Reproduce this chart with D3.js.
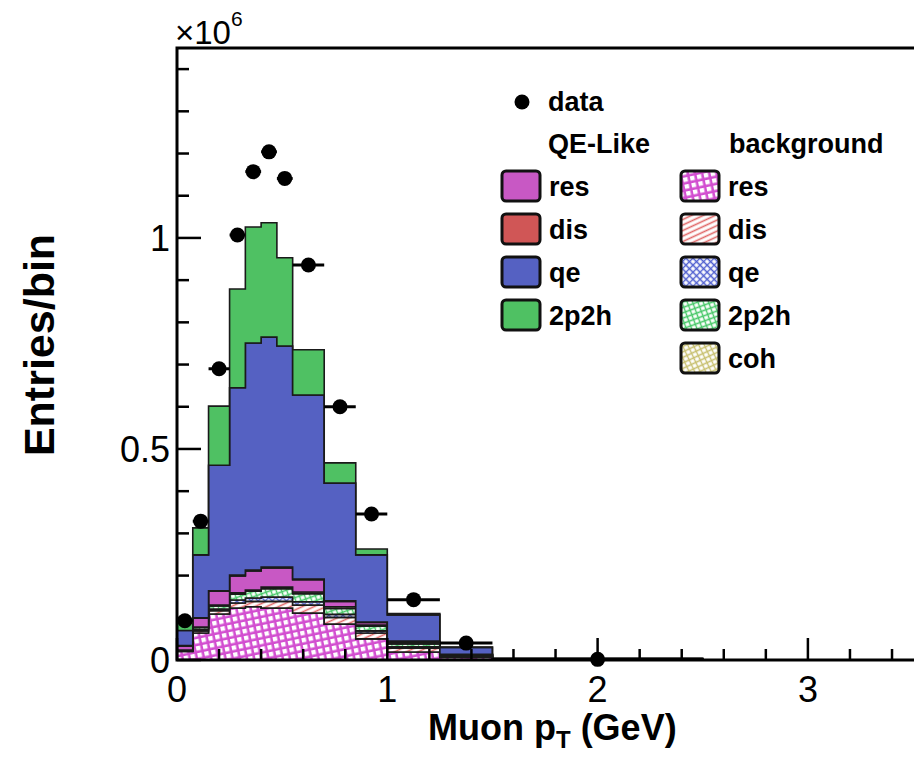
<!DOCTYPE html>
<html>
<head>
<meta charset="utf-8">
<style>
  body { margin: 0; background: #fff; }
  svg text { font-family: "Liberation Sans", Arial, Helvetica, sans-serif; fill: #000; }
  .lab { font-weight: bold; font-size: 27px; }
  .tick { font-size: 36px; }
</style>
<script src="https://d3js.org/d3.v7.min.js"></script>
</head>
<body>
<svg id="chart"></svg>
<script>
// bin edges in GeV
var binEdges = [0, 0.075, 0.15, 0.25, 0.325, 0.4, 0.475, 0.55, 0.7, 0.85, 1.0, 1.25, 1.5, 2.5, 4.5];

// entries per bin, in units of 1e6
var bgRes   = [0.020, 0.064, 0.109, 0.123, 0.126, 0.123, 0.123, 0.111, 0.085, 0.050, 0.019, 0.006, 0.0008, 0.0001];
var bgDis   = [0.001, 0.005, 0.008, 0.012, 0.013, 0.016, 0.016, 0.019, 0.016, 0.014, 0.009, 0.003, 0.0005, 0.0001];
var bgQE    = [0.001, 0.003, 0.004, 0.007, 0.008, 0.010, 0.010, 0.008, 0.007, 0.005, 0.003, 0.001, 0.0002, 0];
var bg2p2h  = [0.001, 0.005, 0.007, 0.014, 0.016, 0.020, 0.020, 0.019, 0.014, 0.011, 0.007, 0.002, 0.0003, 0];
var bgCoh   = [0.0005, 0.001, 0.002, 0.003, 0.003, 0.004, 0.004, 0.004, 0.004, 0.003, 0.002, 0.0005, 0.0001, 0];
var sigRes  = [0.010, 0.021, 0.033, 0.040, 0.045, 0.045, 0.045, 0.029, 0.013, 0.006, 0.004, 0.001, 0.0002, 0];
var sigDis  = [0.0005, 0.001, 0.001, 0.002, 0.002, 0.002, 0.002, 0.002, 0.001, 0.001, 0.001, 0.0003, 0.0001, 0];
var sigQE   = [0.036, 0.149, 0.2975, 0.444, 0.538, 0.545, 0.524, 0.436, 0.279, 0.159, 0.062, 0.016, 0.0015, 0.0002];
var sig2p2h = [0.017, 0.064, 0.140, 0.234, 0.275, 0.271, 0.209, 0.107, 0.048, 0.014, 0.003, 0.001, 0.0002, 0];

var dataVals = [0.093, 0.329, 0.69, 1.007, 1.157, 1.204, 1.141, 0.936, 0.600, 0.346, 0.143, 0.040, 0.0015];

var xTickLabels = ["0", "1", "2", "3"];
var yTickLabels = ["0", "0.5", "1"];

var width = 914, height = 760;

var x = d3.scaleLinear().domain([0, 4.5]).range([177, 177 + 4.5 * 210.3]);
var y = d3.scaleLinear().domain([0, 1.45]).range([660, 48]);

var svg = d3.select("#chart").attr("width", width).attr("height", height);
var defs = svg.append("defs");

// hatch patterns for the background components
function hatch(id, bg, col, size, angle, kind) {
  var p = defs.append("pattern").attr("id", id)
      .attr("patternUnits", "userSpaceOnUse")
      .attr("width", size).attr("height", size)
      .attr("patternTransform", "rotate(" + angle + ")");
  p.append("rect").attr("width", size).attr("height", size).attr("fill", bg);
  if (kind == "grid") {
    p.append("rect").attr("x", 1).attr("y", 1).attr("width", size - 2.6).attr("height", size - 2.6).attr("fill", "#fff");
  } else {
    p.append("path").attr("d", "M0," + size / 2 + "H" + size).attr("stroke", col).attr("stroke-width", 1.6);
    p.append("path").attr("d", "M" + size / 2 + ",0V" + size).attr("stroke", col).attr("stroke-width", kind == "cross" ? 1.4 : 0);
  }
}
hatch("pRes", "#d24ed0", "#d24ed0", 7, -12, "grid");
hatch("pDis", "#fff", "#e06666", 5, -25, "line");
hatch("pQE", "#fff", "#5060d0", 5, 45, "cross");
hatch("p2p2h", "#fff", "#48c868", 5, -20, "cross");
hatch("pCoh", "#fff", "#c8c070", 5, -25, "cross");

var keys = ["bgRes", "bgDis", "bgQE", "bg2p2h", "bgCoh", "sigRes", "sigDis", "sigQE", "sig2p2h"];
var series = {bgRes: bgRes, bgDis: bgDis, bgQE: bgQE, bg2p2h: bg2p2h, bgCoh: bgCoh,
              sigRes: sigRes, sigDis: sigDis, sigQE: sigQE, sig2p2h: sig2p2h};
var fills = {bgRes: "url(#pRes)", bgDis: "url(#pDis)", bgQE: "url(#pQE)", bg2p2h: "url(#p2p2h)", bgCoh: "url(#pCoh)",
             sigRes: "#c858c4", sigDis: "#d05656", sigQE: "#5561c2", sig2p2h: "#4fc163"};

var rows = bgRes.map(function(d, i) {
  var r = {lo: binEdges[i], hi: binEdges[i + 1]};
  keys.forEach(function(k) { r[k] = series[k][i]; });
  return r;
});

var stacked = d3.stack().keys(keys)(rows);

var area = d3.area()
    .x(function(d) { return x(d.x); })
    .y0(function(d) { return y(d.y0); })
    .y1(function(d) { return y(d.y1); });

svg.append("clipPath").attr("id", "clip")
  .append("rect").attr("x", x(0)).attr("y", y(1.45)).attr("width", x(4.5) - x(0)).attr("height", y(0) - y(1.45));

var plot = svg.append("g").attr("clip-path", "url(#clip)");

stacked.forEach(function(layer) {
  var pts = [];
  layer.forEach(function(d) {
    pts.push({x: d.data.lo, y0: d[0], y1: d[1]});
    pts.push({x: d.data.hi, y0: d[0], y1: d[1]});
  });
  plot.append("path")
      .attr("d", area(pts))
      .attr("fill", fills[layer.key])
      .attr("stroke", "#1a1a1a")
      .attr("stroke-width", 1.6);
});

// data points with horizontal bin-width bars
var pts = dataVals.map(function(v, i) { return {lo: binEdges[i], hi: binEdges[i + 1], v: v}; });
plot.selectAll(".eb").data(pts).enter().append("line")
    .attr("x1", function(d) { return x(d.lo); })
    .attr("x2", function(d) { return x(d.hi); })
    .attr("y1", function(d) { return y(d.v); })
    .attr("y2", function(d) { return y(d.v); })
    .attr("stroke", "#000").attr("stroke-width", 3);
svg.selectAll(".pt").data(pts).enter().append("circle")
    .attr("cx", function(d) { return x((d.lo + d.hi) / 2); })
    .attr("cy", function(d) { return y(d.v); })
    .attr("r", 7.5).attr("fill", "#000");

// frame and axes
svg.append("path")
    .attr("d", "M" + x(4.5) + "," + y(1.45) + "H" + x(0) + "V" + y(0) + "H" + x(4.5))
    .attr("fill", "none").attr("stroke", "#000").attr("stroke-width", 3);

var xMinor = d3.range(0, 4.51, 0.2);
svg.selectAll(".xt").data(xMinor).enter().append("line")
    .attr("x1", function(d) { return x(d); }).attr("x2", function(d) { return x(d); })
    .attr("y1", y(0))
    .attr("y2", function(d, i) { return i % 5 == 0 ? y(0) - 22 : y(0) - 11; })
    .attr("stroke", "#000").attr("stroke-width", 2.5);
svg.selectAll(".xl").data(xTickLabels).enter().append("text")
    .attr("class", "tick")
    .attr("x", function(d) { return x(+d); })
    .attr("y", 702)
    .attr("text-anchor", "middle")
    .text(function(d) { return d; });

var yMinor = d3.range(0, 1.451, 0.1);
svg.selectAll(".yt").data(yMinor).enter().append("line")
    .attr("y1", function(d) { return y(d); }).attr("y2", function(d) { return y(d); })
    .attr("x1", x(0))
    .attr("x2", function(d, i) { return i % 5 == 0 ? x(0) + 24 : x(0) + 12; })
    .attr("stroke", "#000").attr("stroke-width", 2.5);
svg.selectAll(".yl").data(yTickLabels).enter().append("text")
    .attr("class", "tick")
    .attr("x", 170)
    .attr("y", function(d) { return y(+d) + 13; })
    .attr("text-anchor", "end")
    .text(function(d) { return d; });

// exponent
var ex = svg.append("text").attr("x", 175).attr("y", 44).style("font-size", "33px");
ex.append("tspan").text("\u00d710");
ex.append("tspan").attr("dy", -18).style("font-size", "21px").text("6");

// axis titles
svg.append("text")
    .attr("transform", "translate(54,345) rotate(-90)")
    .attr("text-anchor", "middle")
    .style("font-weight", "bold").style("font-size", "43px")
    .text("Entries/bin");

var xt = svg.append("text").attr("x", 428).attr("y", 740)
    .style("font-weight", "bold").style("font-size", "36px");
xt.append("tspan").text("Muon p");
xt.append("tspan").attr("dy", 8).style("font-size", "24px").text("T");
xt.append("tspan").attr("dy", -8).text(" (GeV)");

// legend
var lg = svg.append("g");
lg.append("circle").attr("cx", 522).attr("cy", 102).attr("r", 7.5).attr("fill", "#000");
lg.append("text").attr("class", "lab").attr("x", 548).attr("y", 111).text("data");
lg.append("text").attr("class", "lab").attr("x", 548).attr("y", 153).text("QE-Like");
lg.append("text").attr("class", "lab").attr("x", 729).attr("y", 153).text("background");

var sigItems = [["sigRes", "res"], ["sigDis", "dis"], ["sigQE", "qe"], ["sig2p2h", "2p2h"]];
var bgItems = [["bgRes", "res"], ["bgDis", "dis"], ["bgQE", "qe"], ["bg2p2h", "2p2h"], ["bgCoh", "coh"]];

function legendCol(items, sx, tx) {
  items.forEach(function(it, i) {
    var cy = 186 + i * 43;
    lg.append("rect").attr("x", sx).attr("y", cy - 15).attr("width", 38).attr("height", 30)
        .attr("rx", 4).attr("fill", fills[it[0]]).attr("stroke", "#111").attr("stroke-width", 3);
    lg.append("text").attr("class", "lab").attr("x", tx).attr("y", cy + 10).text(it[1]);
  });
}
legendCol(sigItems, 502, 549);
legendCol(bgItems, 681, 728);
</script>
</body>
</html>
